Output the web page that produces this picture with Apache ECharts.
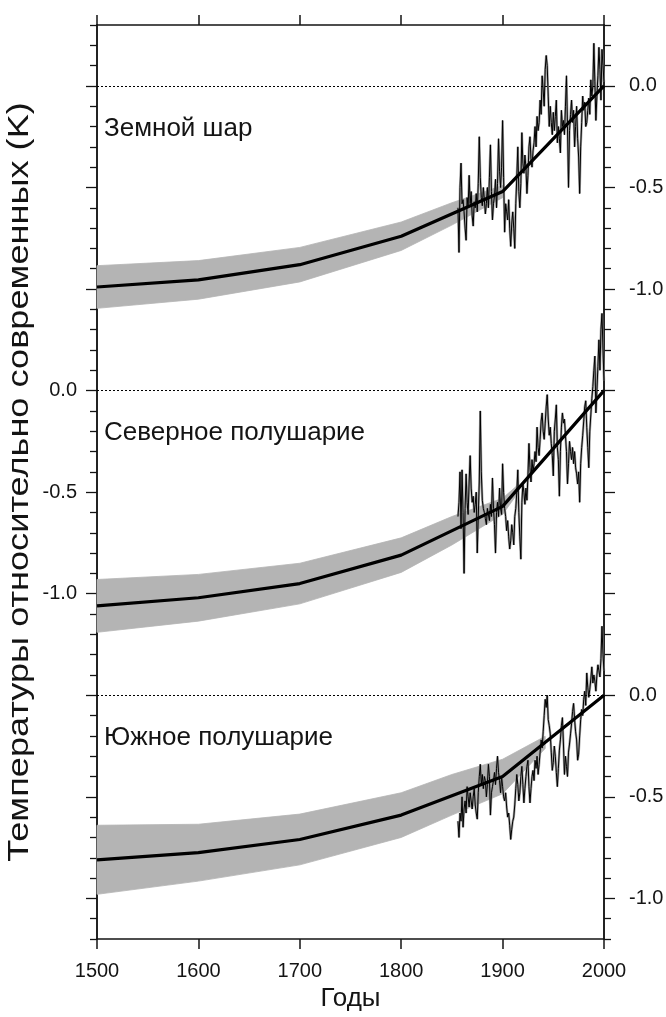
<!DOCTYPE html>
<html>
<head>
<meta charset="utf-8">
<script src="https://cdn.jsdelivr.net/npm/echarts@6/dist/echarts.min.js"></script>
<style>
  html, body { margin: 0; padding: 0; background: #ffffff; }
  #chart { width: 666px; height: 1017px; }
</style>
</head>
<body>
<div id="chart"></div>
<script>
// Borehole-based temperature trends (1500–2000) with the instrumental record,
// three panels stacked on one shared axis, each shifted down by 1.5 K.

// Century vertices of the reconstructed trends (K, relative to present)
const trendYears = [1500, 1600, 1700, 1800, 1900, 2000];
const globalTrend = [-0.99, -0.955, -0.88, -0.74, -0.52, 0.0];
const northTrend  = [-1.06, -1.02, -0.95, -0.81, -0.57, 0.0];
const southTrend  = [-0.81, -0.775, -0.71, -0.59, -0.40, 0.0];

// Uncertainty envelopes
const globalBandYears = [1500, 1600, 1700, 1800, 1850, 1900];
const globalBandHigh  = [-0.885, -0.86, -0.795, -0.67, -0.575, -0.49];
const globalBandLow   = [-1.095, -1.05, -0.965, -0.81, -0.685, -0.55];

const northBandYears = [1500, 1600, 1700, 1800, 1850, 1900, 1915];
const northBandHigh  = [-0.93, -0.905, -0.85, -0.725, -0.62, -0.53, -0.465];
const northBandLow   = [-1.19, -1.135, -1.05, -0.895, -0.76, -0.61, -0.505];

const southBandYears = [1500, 1600, 1700, 1800, 1850, 1900, 1942];
const southBandHigh  = [-0.64, -0.635, -0.585, -0.48, -0.39, -0.315, -0.202];
const southBandLow   = [-0.98, -0.915, -0.835, -0.70, -0.59, -0.485, -0.262];

// Annual instrumental anomalies, 1856–2000
const annualStart = 1856;
const globalAnnual = [
  -0.60,-0.82,-0.50,-0.38,-0.58,-0.56,-0.62,-0.70,-0.76,-0.55,
  -0.60,-0.44,-0.58,-0.52,-0.64,-0.69,-0.57,-0.60,-0.53,-0.62,
  -0.48,-0.25,-0.45,-0.55,-0.59,-0.50,-0.56,-0.63,-0.58,-0.50,
  -0.60,-0.45,-0.29,-0.52,-0.66,-0.58,-0.54,-0.46,-0.60,-0.48,
  -0.26,-0.42,-0.50,-0.40,-0.17,-0.45,-0.72,-0.58,-0.62,-0.66,
  -0.56,-0.70,-0.79,-0.68,-0.62,-0.70,-0.80,-0.58,-0.45,-0.30,
  -0.52,-0.60,-0.48,-0.23,-0.38,-0.43,-0.34,-0.40,-0.53,-0.44,
  -0.30,-0.25,-0.36,-0.40,-0.32,-0.28,-0.20,-0.30,-0.15,-0.22,
  -0.18,-0.07,-0.14, 0.05,-0.02,-0.10, 0.08, 0.15, 0.10,-0.05,
  -0.20,-0.10,-0.18,-0.24,-0.13,-0.22,-0.15,-0.07,-0.28,-0.20,
  -0.26,-0.33,-0.12,-0.20,-0.17,-0.24,-0.10, 0.05,-0.20,-0.50,
  -0.22,-0.14,-0.07,-0.18,-0.12,-0.30,-0.20,-0.10,-0.26,-0.35,
  -0.53,-0.30,-0.18,-0.05,-0.12,-0.08,-0.20,-0.18,-0.12,-0.06,
  -0.14, 0.03,-0.05, 0.00, 0.21, 0.02,-0.17,-0.05, 0.05, 0.19,
   0.08,-0.07, 0.18, 0.10, 0.02
];
const northAnnual = [
  -0.62,-0.55,-0.40,-0.68,-0.39,-0.60,-0.90,-0.58,-0.41,-0.55,
  -0.61,-0.45,-0.32,-0.48,-0.55,-0.52,-0.60,-0.56,-0.50,-0.80,
  -0.62,-0.45,-0.10,-0.40,-0.54,-0.58,-0.60,-0.63,-0.66,-0.58,
  -0.61,-0.64,-0.56,-0.62,-0.43,-0.58,-0.66,-0.80,-0.60,-0.55,
  -0.62,-0.48,-0.58,-0.61,-0.36,-0.50,-0.58,-0.62,-0.69,-0.64,
  -0.72,-0.78,-0.74,-0.66,-0.70,-0.76,-0.62,-0.58,-0.50,-0.39,
  -0.60,-0.72,-0.83,-0.55,-0.46,-0.50,-0.56,-0.48,-0.54,-0.42,
  -0.26,-0.38,-0.45,-0.34,-0.40,-0.36,-0.30,-0.35,-0.18,-0.28,
  -0.32,-0.24,-0.15,-0.11,-0.20,-0.24,-0.16,-0.08,-0.02,-0.14,
  -0.22,-0.18,-0.26,-0.32,-0.42,-0.20,-0.14,-0.07,-0.28,-0.34,
  -0.52,-0.30,-0.18,-0.11,-0.16,-0.14,-0.22,-0.30,-0.46,-0.36,
  -0.25,-0.30,-0.34,-0.28,-0.36,-0.30,-0.38,-0.41,-0.46,-0.40,
  -0.55,-0.36,-0.28,-0.22,-0.15,-0.08,-0.05,-0.18,-0.28,-0.38,
  -0.20,-0.12,-0.04, 0.02, 0.10, 0.17,-0.11, 0.00, 0.12, 0.25,
   0.10, 0.30, 0.38, 0.20, 0.05
];
const southAnnual = [
  -0.62,-0.70,-0.58,-0.62,-0.50,-0.65,-0.56,-0.52,-0.58,-0.45,
  -0.50,-0.55,-0.48,-0.52,-0.56,-0.50,-0.46,-0.54,-0.58,-0.61,
  -0.48,-0.40,-0.34,-0.44,-0.39,-0.46,-0.40,-0.42,-0.50,-0.44,
  -0.34,-0.40,-0.59,-0.48,-0.45,-0.42,-0.38,-0.44,-0.36,-0.30,
  -0.38,-0.42,-0.48,-0.40,-0.45,-0.50,-0.52,-0.48,-0.55,-0.60,
  -0.58,-0.64,-0.71,-0.66,-0.62,-0.60,-0.54,-0.46,-0.39,-0.44,
  -0.52,-0.48,-0.40,-0.35,-0.44,-0.53,-0.46,-0.40,-0.35,-0.32,
  -0.45,-0.53,-0.46,-0.40,-0.37,-0.42,-0.32,-0.36,-0.30,-0.39,
  -0.34,-0.28,-0.22,-0.26,-0.18,-0.10,-0.02,-0.06, 0.00,-0.12,
  -0.15,-0.19,-0.28,-0.37,-0.33,-0.25,-0.30,-0.38,-0.45,-0.36,
  -0.27,-0.22,-0.15,-0.11,-0.24,-0.39,-0.30,-0.35,-0.40,-0.28,
  -0.24,-0.19,-0.14,-0.08,-0.04,-0.12,-0.18,-0.22,-0.32,-0.29,
  -0.20,-0.12,-0.07,-0.10,-0.02, 0.02,-0.05, 0.11, 0.04,-0.01,
   0.03, 0.08, 0.14, 0.06, 0.10, 0.07, 0.02, 0.10, 0.15, 0.12,
   0.09, 0.18, 0.34, 0.20, 0.12
];

// Panel titles and their vertical shift on the shared axis (K)
const panelNames   = ['Земной шар', 'Северное полушарие', 'Южное полушарие'];
const panelOffsets = [0, -1.5, -3.0];
const yTitle = 'Температуры относительно современных (K)';

// Tick labels: left axis labels the middle panel, right axis the top and bottom
const xTickYears   = [1500, 1600, 1700, 1800, 1900, 2000];
const leftLabelAt  = [-1.5, -2.0, -2.5];
const rightLabelAt = [0, -0.5, -1.0, -3.0, -3.5, -4.0];
const majorTickAt  = [0, -0.5, -1.0, -1.5, -2.0, -2.5, -3.0, -3.5, -4.0];

const Y_MIN = -4.2, Y_MAX = 0.3;
const minorTickAt = [];
for (let k = Math.round(Y_MAX * 10); k >= Math.round(Y_MIN * 10); k--) {
  const v = k / 10;
  if (Math.abs(v * 2 - Math.round(v * 2)) > 1e-9) minorTickAt.push(v);
}

const FONT = '"Liberation Sans", Arial, Helvetica, sans-serif';
const INK = '#141414';
const BAND = '#b4b4b4';

const panels = [
  { trend: globalTrend, bandYears: globalBandYears, high: globalBandHigh, low: globalBandLow, annual: globalAnnual },
  { trend: northTrend,  bandYears: northBandYears,  high: northBandHigh,  low: northBandLow,  annual: northAnnual },
  { trend: southTrend,  bandYears: southBandYears,  high: southBandHigh,  low: southBandLow,  annual: southAnnual }
];

const series = [];
panels.forEach((p, i) => {
  const off = panelOffsets[i];
  const bandData = p.bandYears.map((y, j) => [y, p.low[j] + off, p.high[j] + off]);
  // envelope: one polygon through the upper edge and back along the lower edge
  series.push({
    type: 'custom', silent: true, z: 1,
    encode: { x: 0, y: [1, 2] },
    data: bandData,
    renderItem: (params, api) => {
      if (params.dataIndex !== 0) return null;
      const upper = bandData.map(d => api.coord([d[0], d[2]]));
      const lower = bandData.map(d => api.coord([d[0], d[1]])).reverse();
      return {
        type: 'polygon',
        shape: { points: upper.concat(lower) },
        style: { fill: BAND, stroke: BAND, lineWidth: 0.8 }
      };
    }
  });
  // annual record: soft grey halo under a thin black trace
  const annualData = p.annual.map((v, j) => [annualStart + j, v + off]);
  series.push({
    type: 'line', symbol: 'none', silent: true, z: 2,
    lineStyle: { color: '#8c8c8c', width: 2.4, opacity: 0.8 },
    data: annualData
  });
  series.push({
    type: 'line', symbol: 'none', silent: true, z: 3,
    lineStyle: { color: '#000000', width: 1 },
    data: annualData
  });
  // reconstructed trend
  series.push({
    type: 'line', symbol: 'none', silent: true, z: 4,
    lineStyle: { color: '#000000', width: 3.2 },
    data: trendYears.map((y, j) => [y, p.trend[j] + off]),
    markLine: {
      silent: true, symbol: 'none', animation: false,
      label: { show: false },
      lineStyle: { color: '#000000', width: 1, type: [2, 2] },
      data: [{ yAxis: off }]
    }
  });
});

const axisLineStyle = { color: INK, width: 1.5 };
const tidy = r => (Math.abs(r) < 1e-9 ? 0 : r).toFixed(1);
const fmtLeft  = v => tidy(Math.round((v + 1.5) * 10) / 10);
const fmtRight = v => tidy(Math.round((v - (v >= -1.25 ? 0 : -3.0)) * 10) / 10);

const yBase = {
  type: 'value', min: Y_MIN, max: Y_MAX,
  splitLine: { show: false },
  axisLine: { show: true, lineStyle: axisLineStyle, onZero: false }
};

const option = {
  animation: false,
  backgroundColor: '#ffffff',
  textStyle: { fontFamily: FONT },
  grid: { left: 97, right: 62, top: 25, bottom: 78, containLabel: false, outerBoundsMode: 'none' },
  xAxis: [
    {
      type: 'value', position: 'bottom', min: 1500, max: 2000, interval: 100,
      axisLine: { show: true, lineStyle: axisLineStyle, onZero: false },
      axisTick: { show: true, length: 10, lineStyle: { color: INK, width: 1.5 } },
      axisLabel: { show: true, fontSize: 20, color: INK, margin: 22, fontFamily: FONT,
                   customValues: xTickYears, formatter: v => String(v) },
      splitLine: { show: false },
      name: 'Годы', nameLocation: 'middle', nameGap: 46,
      nameTextStyle: { fontSize: 26, color: INK, fontFamily: FONT }
    },
    {
      type: 'value', position: 'top', min: 1500, max: 2000, interval: 100,
      axisLine: { show: true, lineStyle: axisLineStyle, onZero: false },
      axisTick: { show: true, length: 10, lineStyle: { color: INK, width: 1.5 } },
      axisLabel: { show: false },
      splitLine: { show: false }
    }
  ],
  yAxis: [
    Object.assign({}, yBase, {
      position: 'left',
      axisTick: { show: true, length: 11, customValues: majorTickAt, lineStyle: { color: INK, width: 1.3 } },
      axisLabel: { show: true, customValues: leftLabelAt, formatter: fmtLeft,
                   fontSize: 20, color: INK, margin: 20, fontFamily: FONT }
    }),
    Object.assign({}, yBase, {
      position: 'left',
      axisTick: { show: true, length: 7, customValues: minorTickAt, lineStyle: { color: INK, width: 1.3 } },
      axisLabel: { show: false }
    }),
    Object.assign({}, yBase, {
      position: 'right',
      axisTick: { show: true, length: 11, customValues: majorTickAt, lineStyle: { color: INK, width: 1.3 } },
      axisLabel: { show: true, customValues: rightLabelAt, formatter: fmtRight,
                   fontSize: 20, color: INK, margin: 25, fontFamily: FONT }
    }),
    Object.assign({}, yBase, {
      position: 'right',
      axisTick: { show: true, length: 7, customValues: minorTickAt, lineStyle: { color: INK, width: 1.3 } },
      axisLabel: { show: false }
    })
  ],
  series: series
};

const chart = echarts.init(document.getElementById('chart'), null, { renderer: 'canvas' });
chart.setOption(option);

// Panel titles placed in data space, just inside the left edge below each zero line
const titleDepth = -0.21;
const graphics = panelNames.map((name, i) => {
  const pt = chart.convertToPixel({ xAxisIndex: 0, yAxisIndex: 0 }, [1500, panelOffsets[i] + titleDepth]);
  return {
    type: 'text', x: pt[0] + 7, y: pt[1], z: 10,
    style: { text: name, fontSize: 26, fontFamily: FONT, fill: INK, verticalAlign: 'middle', align: 'left' }
  };
});

// Vertical axis title, drawn widely spaced along its length
const titleFont = 29;
const ctx = document.createElement('canvas').getContext('2d');
ctx.font = titleFont + 'px ' + FONT;
const titleLen = ctx.measureText(yTitle).width;
const spanTop = chart.convertToPixel({ yAxisIndex: 0 }, -0.08);
const spanBottom = chart.convertToPixel({ yAxisIndex: 0 }, -3.82);
const leftEdge = chart.convertToPixel({ xAxisIndex: 0 }, 1500);
graphics.push({
  type: 'text', z: 10,
  x: leftEdge - 77, y: (spanTop + spanBottom) / 2,
  rotation: Math.PI / 2,
  scaleX: (spanBottom - spanTop) / titleLen,
  style: { text: yTitle, fontSize: titleFont, fontFamily: FONT, fill: INK, align: 'center', verticalAlign: 'middle' }
});
chart.setOption({ graphic: graphics });
</script>
</body>
</html>
